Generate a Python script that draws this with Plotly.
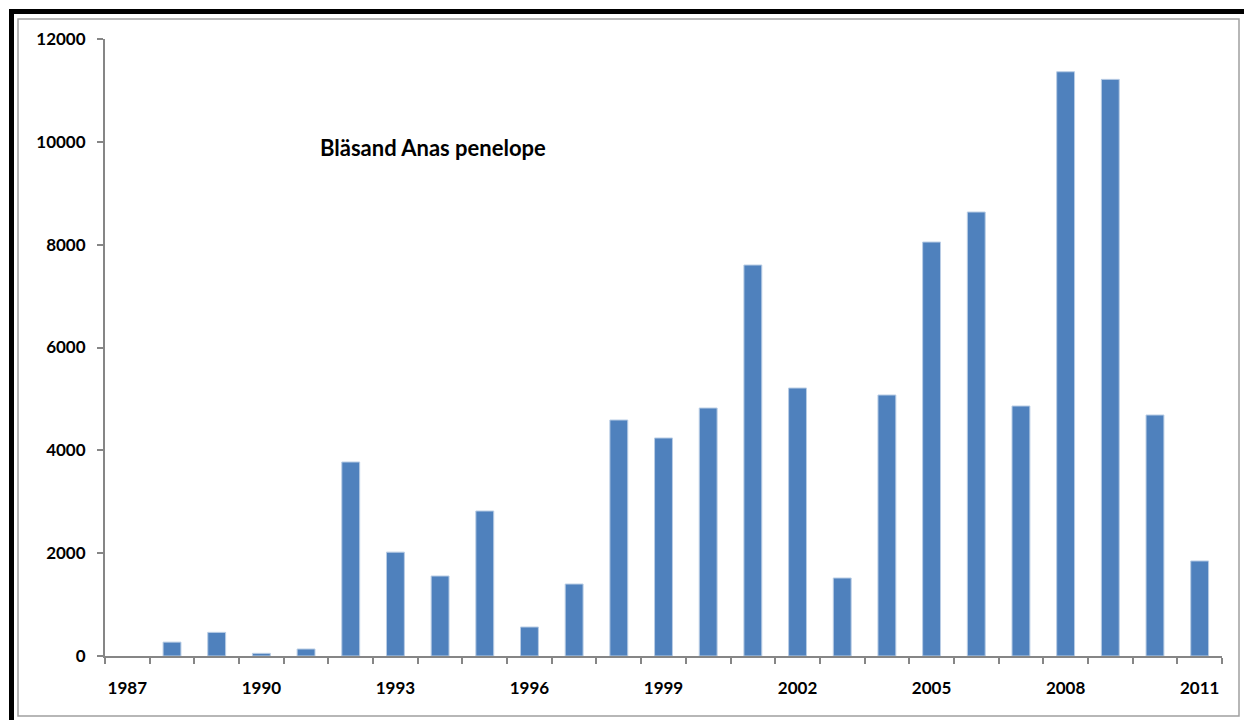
import plotly.graph_objects as go

years = [str(y) for y in range(1987, 2012)]
counts = [0, 270, 460, 52, 136, 3773, 2020, 1556, 2820, 564, 1400, 4590, 4240,
          4823, 7604, 5212, 1517, 5076, 8051, 8635, 4862, 11363, 11215, 4687, 1848]
labeled_years = ["1987", "1990", "1993", "1996", "1999", "2002", "2005", "2008", "2011"]
title_text = "Bläsand Anas penelope"

W, H = 1244, 720
L, R, T, B = 105, 22, 39, 64
pw, ph = W - L - R, H - T - B

def px(x):
    return (x - L) / pw

def py(y):
    return (H - B - y) / ph

fig = go.Figure()
fig.add_trace(go.Bar(
    x=years, y=counts,
    marker=dict(color="#4F81BD",
                line=dict(color="#B9CDE5", width=[0 if v == 0 else 1 for v in counts])),
    showlegend=False,
))

tick_text = [y if y in labeled_years else "" for y in years]
font_family = "Lato, 'Open Sans', sans-serif"

fig.update_layout(
    width=W, height=H,
    margin=dict(l=L, r=R, t=T, b=B),
    paper_bgcolor="white", plot_bgcolor="white",
    bargap=0.6,
    font=dict(family=font_family, color="black"),
    xaxis=dict(
        type="category", tickmode="array", tickvals=years, ticktext=tick_text,
        tickson="boundaries", ticks="outside", ticklen=6, tickwidth=1.5,
        tickcolor="#868686", showline=True, linecolor="#868686", linewidth=2,
        showgrid=False, tickangle=0,
        tickfont=dict(size=17, weight="bold", family=font_family, color="black"),
        ticklabelstandoff=16,
    ),
    yaxis=dict(
        range=[0, 12000], dtick=2000, tick0=0, tickformat="d", ticks="outside",
        ticklen=6, tickwidth=1.5, tickcolor="#868686", showline=True,
        linecolor="#868686", linewidth=2, showgrid=False, zeroline=False,
        tickfont=dict(size=17, weight="bold", family=font_family, color="black"),
        ticklabelstandoff=8,
    ),
    annotations=[dict(
        text=title_text, xref="paper", yref="paper", x=px(318), y=py(147),
        xanchor="left", yanchor="middle", showarrow=False,
        font=dict(size=22, weight="bold", family=font_family, color="black"),
    )],
    shapes=[
        dict(type="rect", xref="paper", yref="paper", x0=px(18), x1=px(1239),
             y0=py(716), y1=py(19), line=dict(color="#A0A0A0", width=1.5)),
        dict(type="line", xref="paper", yref="paper", x0=px(9), x1=px(1244),
             y0=py(11.5), y1=py(11.5), line=dict(color="black", width=5)),
        dict(type="line", xref="paper", yref="paper", x0=px(11.5), x1=px(11.5),
             y0=py(9), y1=py(720), line=dict(color="black", width=5)),
    ],
)

fig.write_html("out.html", config={"displayModeBar": False},
               post_script="document.body.style.margin='0';")
